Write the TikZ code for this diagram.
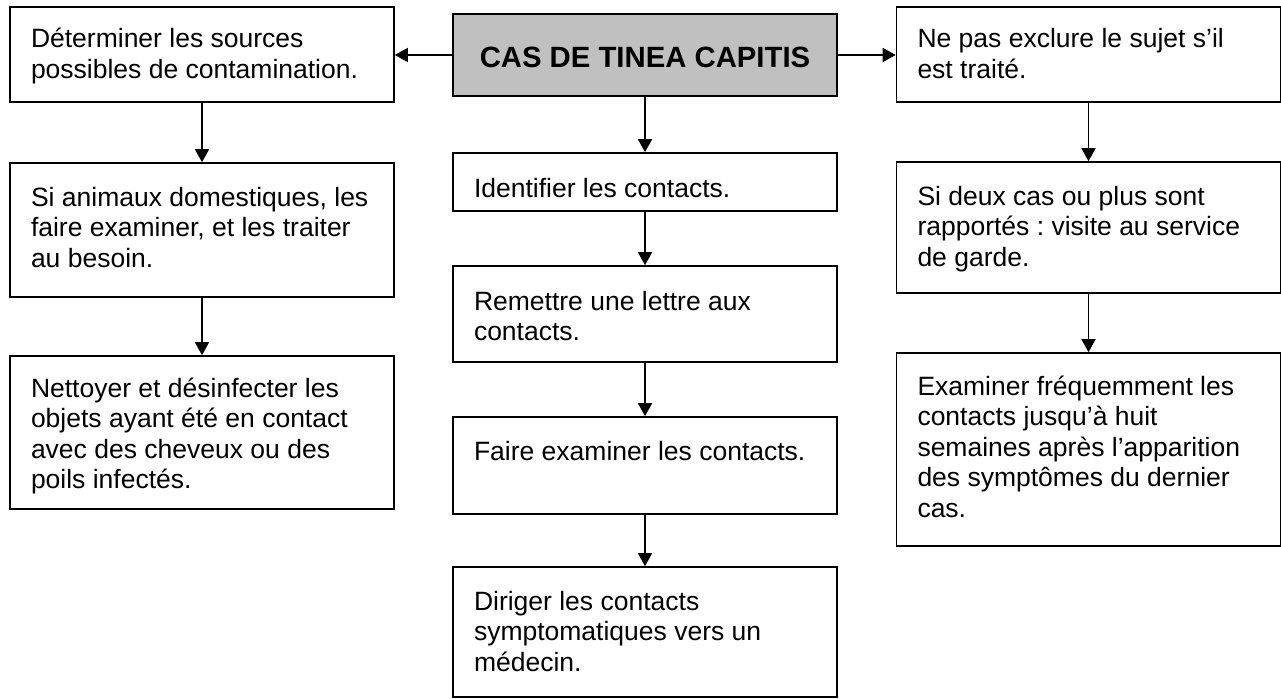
\documentclass[tikz,border=0pt]{standalone}
\usepackage{fontspec}
\setmainfont{Liberation Sans}
\usetikzlibrary{arrows.meta}
\definecolor{titlegray}{RGB}{192,192,192}
\frenchspacing
\newcommand{\boxtxt}[3]{\parbox[c][#1][t]{384pt}{\raggedright\leftskip=21pt\rule{0pt}{#2}#3}}
\begin{document}
\begin{tikzpicture}[x=1pt,y=-1pt,
  box/.style={draw, line width=1.6pt, inner sep=0pt, font=\fontsize{26.5pt}{30.5pt}\selectfont},
  titlebox/.style={draw, line width=1.6pt, inner sep=0pt, fill=titlegray, minimum width=384pt, minimum height=82pt, text height=26pt, text depth=0pt, font=\fontsize{29.3pt}{34pt}\selectfont\bfseries},
  arr/.style={-{Triangle[width=14pt,length=13pt]}, line width=1.5pt}]
\useasboundingbox (0,0) rectangle (1281,698);

% title
\node[titlebox] (G) at (645,55) {CAS DE TINEA CAPITIS};

% left column
\node[box] (L1) at (202,54.5) {\boxtxt{95pt}{41pt}{Déterminer les sources\\possibles de contamination.}};
\node[box] (L2) at (202,230) {\boxtxt{134pt}{43pt}{Si animaux domestiques, les\\faire examiner, et les traiter\\au besoin.}};
\node[box] (L3) at (202,432.5) {\boxtxt{153pt}{41pt}{Nettoyer et désinfecter les\\objets ayant été en contact\\avec des cheveux ou des\\poils infectés.}};

% center column
\node[box] (C1) at (645,182) {\boxtxt{58pt}{44pt}{Identifier les contacts.}};
\node[box] (C2) at (645,314) {\boxtxt{96pt}{44pt}{Remettre une lettre aux\\contacts.}};
\node[box] (C3) at (645,465.5) {\boxtxt{97pt}{43pt}{Faire examiner les contacts.}};
\node[box] (C4) at (645,632) {\boxtxt{130pt}{43pt}{Diriger les contacts\\symptomatiques vers un\\médecin.}};

% right column
\node[box] (R1) at (1088.5,54.5) {\boxtxt{95pt}{41pt}{Ne pas exclure le sujet s’il\\est traité.}};
\node[box] (R2) at (1088.5,227.5) {\boxtxt{131pt}{43pt}{Si deux cas ou plus sont\\rapportés : visite au service\\de garde.}};
\node[box] (R3) at (1088.5,449.5) {\boxtxt{193pt}{42pt}{Examiner fréquemment les\\contacts jusqu’à huit\\semaines après l’apparition\\des symptômes du dernier\\cas.}};

% connectors
\draw[arr] (G.west) -- (L1.east |- G.west);
\draw[arr] (G.east) -- (R1.west |- G.east);
\draw[arr] (L1.south) -- (L2.north);
\draw[arr] (L2.south) -- (L3.north);
\draw[arr] (G.south) -- (C1.north);
\draw[arr] (C1.south) -- (C2.north);
\draw[arr] (C2.south) -- (C3.north);
\draw[arr] (C3.south) -- (C4.north);
\draw[arr] (R1.south) -- (R2.north);
\draw[arr] (R2.south) -- (R3.north);
\end{tikzpicture}
\end{document}
